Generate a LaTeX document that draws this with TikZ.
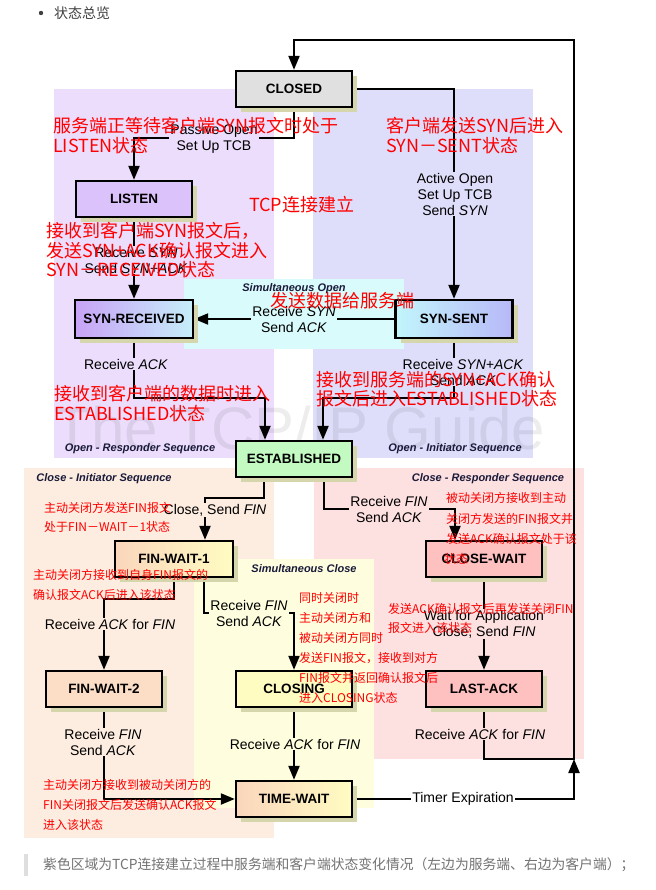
\documentclass[tikz,border=0pt]{standalone}
\usepackage{fontspec}
\setmainfont{Liberation Sans}
\newfontfamily\cjk{Noto Sans CJK SC}
\usetikzlibrary{arrows.meta,shadows}
\pgfdeclarelayer{back}
\pgfdeclarelayer{lines}
\pgfsetlayers{back,lines,main}
\definecolor{rgPurple}{HTML}{EBDDFB}
\definecolor{rgBlue}{HTML}{DEDEFB}
\definecolor{rgCyan}{HTML}{DAFBFB}
\definecolor{rgOrange}{HTML}{FDEDE0}
\definecolor{rgPink}{HTML}{FDE0E0}
\definecolor{rgYellow}{HTML}{FEFEDF}
\definecolor{shadowc}{HTML}{D6D6AC}
\definecolor{rglabel}{HTML}{1A1A3A}
\definecolor{bxClosed}{HTML}{E0E0E0}
\definecolor{bxListen}{HTML}{DCC2FA}
\definecolor{bxPurple}{HTML}{C8A2F6}
\definecolor{bxLCyan}{HTML}{C6EEFA}
\definecolor{bxCyan}{HTML}{C2F6FC}
\definecolor{bxPeri}{HTML}{B8B8F8}
\definecolor{bxGreen}{HTML}{C2FAC2}
\definecolor{bxPeach}{HTML}{FAD6BC}
\definecolor{bxPeach2}{HTML}{FCDEC6}
\definecolor{bxYellow}{HTML}{FFFCC2}
\definecolor{bxPink}{HTML}{FFC0C0}
\definecolor{annred}{HTML}{FF0000}
\begin{document}
\begin{tikzpicture}[x=1pt,y=-1pt,
  stbox/.style={draw=black, line width=2.4pt, minimum width=116pt, minimum height=36pt,
    inner sep=0pt, font=\fontsize{13.5}{15}\selectfont\bfseries,
    drop shadow={shadow xshift=5pt, shadow yshift=-5pt, fill=shadowc, opacity=1}},
  conn/.style={line width=2.2pt, -{Triangle[width=11pt,length=14pt]}},
  lbl/.style={font=\fontsize{14}{16}\selectfont, align=center, inner sep=1pt},
  rlabel/.style={font=\fontsize{11}{13}\selectfont\bfseries\itshape, text=rglabel, inner sep=0pt},
  bigred/.style={font=\cjk\fontsize{18}{20}\selectfont, text=annred, anchor=west, inner sep=0pt},
  smallred/.style={font=\cjk\fontsize{12}{14}\selectfont, text=annred, anchor=west, inner sep=0pt}]
\useasboundingbox (0,0) rectangle (655,890);

\begin{pgfonlayer}{back}
\fill[white] (0,0) rectangle (655,890);
\fill[rgPurple] (54,89) rectangle (274,458);
\fill[rgBlue] (313,89) rectangle (533,458);
\fill[rgCyan] (184,279) rectangle (404,349);
\fill[rgOrange] (24,468) rectangle (274,838);
\fill[rgPink] (314,468) rectangle (584,759);
\fill[rgYellow] (194,559) rectangle (374,808);
\node[font=\fontsize{60}{60}\selectfont, text=black, opacity=0.07, inner sep=0pt] (wm) at (300,428) {The TCP/IP Guide};
\node[rlabel] (l1) at (140,449) {Open - Responder Sequence};
\node[rlabel] (l2) at (455,449) {Open - Initiator Sequence};
\node[rlabel] (l3) at (294,289) {Simultaneous Open};
\node[rlabel] (l4) at (104,479) {Close - Initiator Sequence};
\node[rlabel] (l5) at (488,479) {Close - Responder Sequence};
\node[rlabel] (l6) at (304,569) {Simultaneous Close};
\end{pgfonlayer}

% heading and footer
\fill[black!75] (41,13) circle (2.2pt);
\node[font=\cjk\fontsize{14}{16}\selectfont, text=black!75, anchor=west, inner sep=0pt] (head) at (54,13) {状态总览};
\fill[black!13] (24,854) rectangle (28,876);
\node[font=\cjk\fontsize{13.8}{16}\selectfont, text=black!55, anchor=west, inner sep=0pt] (foot) at (43,865) {紫色区域为TCP连接建立过程中服务端和客户端状态变化情况（左边为服务端、右边为客户端）；};

% states
\node[stbox, fill=bxClosed] (closed) at (294,89) {CLOSED};
\node[stbox, fill=bxListen] (listen) at (134,199) {LISTEN};
\node[stbox, minimum width=118pt, minimum height=38pt, left color=bxPurple, right color=bxLCyan] (synrcvd) at (134,319) {SYN-RECEIVED};
\node[stbox, minimum width=117pt, minimum height=38pt, left color=bxCyan, right color=bxPeri] (synsent) at (454,319) {SYN-SENT};
\node[stbox, fill=bxGreen] (est) at (294,459) {ESTABLISHED};
\node[stbox, minimum width=118pt, left color=bxPeach, right color=bxYellow] (fw1) at (174,559) {FIN-WAIT-1};
\node[stbox, fill=bxPink] (cw) at (484,559) {CLOSE-WAIT};
\node[stbox, fill=bxPeach2] (fw2) at (104,689) {FIN-WAIT-2};
\node[stbox, fill=bxYellow] (closing) at (294,689) {CLOSING};
\node[stbox, fill=bxPink] (lastack) at (484,689) {LAST-ACK};
\node[stbox, left color=bxPeach, right color=bxYellow] (tw) at (294,799) {TIME-WAIT};

% bend points
\coordinate (b1) at (134,138);
\coordinate (b2) at (134,398);
\coordinate (b3) at (454,398);
\coordinate (b4) at (264,498);
\coordinate (b5) at (324,509);
\coordinate (b6) at (174,599);
\coordinate (b7) at (204,613);
\coordinate (b10) at (574,759);
\coordinate (b11) at (574,40);
\coordinate (estinL) at ([xshift=-29pt]est.north);
\coordinate (estinR) at ([xshift=29pt]est.north);
\coordinate (estoutL) at ([xshift=-30pt]est.south);
\coordinate (estoutR) at ([xshift=30pt]est.south);
\coordinate (fw1in) at ([xshift=31pt]fw1.north);
\coordinate (fw1out) at ([xshift=30pt]fw1.south);
\coordinate (cwin) at ([xshift=-29pt]cw.north);

\begin{pgfonlayer}{lines}
\draw[conn] (closed.south) |- (b1) -- (listen.north);
\draw[conn] (closed.east) -| (synsent.north);
\draw[conn] (listen.south) -- (synrcvd.north);
\draw[conn] (synsent.west) -- (synrcvd.east);
\draw[conn] (synrcvd.south) -- (b2) -| (estinL);
\draw[conn] (synsent.south) -- (b3) -| (estinR);
\draw[conn] (estoutL) -- (b4) -| (fw1in);
\draw[conn] (estoutR) -- (b5) -| (cwin);
\draw[conn] (fw1.south) -- (b6) -| (fw2.north);
\draw[conn] (fw1out) -- (b7) -| (closing.north);
\draw[conn] (fw2.south) |- (tw.west);
\draw[conn] (closing.south) -- (tw.north);
\draw[conn] (cw.south) -- (lastack.north);
\draw[conn] (lastack.south) |- (b10) -- (b11) -| (closed.north);
\draw[conn] (tw.east) -| (b10);

\node[lbl, fill=rgPurple] (t1) at (214,139) {Passive Open\\Set Up TCB};
\node[lbl, fill=rgBlue] (t2) at (455,194) {Active Open\\Set Up TCB\\Send \textit{SYN}};
\node[lbl, fill=rgPurple] (t3) at (136,260) {Receive \textit{SYN}\\Send \textit{SYN+ACK}};
\node[lbl, fill=rgCyan] (t4) at (294,319) {Receive \textit{SYN}\\Send \textit{ACK}};
\node[lbl, fill=rgPurple] (t5) at (126,364) {Receive \textit{ACK}};
\node[lbl, fill=rgBlue] (t6) at (463,372) {Receive \textit{SYN+ACK}\\Send \textit{ACK}};
\node[lbl, fill=rgOrange] (t7) at (215,510) {Close, Send \textit{FIN}};
\node[lbl, fill=rgPink] (t8) at (389,509) {Receive \textit{FIN}\\Send \textit{ACK}};
\node[lbl, fill=rgOrange] (t9) at (110,624) {Receive \textit{ACK} for \textit{FIN}};
\node[lbl, fill=rgYellow] (t10) at (249,613) {Receive \textit{FIN}\\Send \textit{ACK}};
\node[lbl, fill=rgOrange] (t11) at (103,742) {Receive \textit{FIN}\\Send \textit{ACK}};
\node[lbl, fill=rgYellow] (t12) at (295,744) {Receive \textit{ACK} for \textit{FIN}};
\node[lbl, fill=rgPink] (t13) at (484,624) {Wait for Application\\Close, Send \textit{FIN}};
\node[lbl, fill=rgPink] (t14) at (480,734) {Receive \textit{ACK} for \textit{FIN}};
\node[lbl, fill=white] (t15) at (463,799) {Timer Expiration};
\end{pgfonlayer}

% red annotations
\node[bigred] (r1) at (53,126) {服务端正等待客户端SYN报文时处于};
\node[bigred] (r2) at (53,146) {LISTEN状态};
\node[bigred] (r3) at (386,126) {客户端发送SYN后进入};
\node[bigred] (r4) at (386,146) {SYN－SENT状态};
\node[bigred] (r5) at (249,205) {TCP连接建立};
\node[bigred] (r6) at (46,231) {接收到客户端SYN报文后，};
\node[bigred] (r7) at (46,251) {发送SYN+ACK确认报文进入};
\node[bigred] (r8) at (46,270) {SYN－RECEIVED状态};
\node[bigred] (r9) at (270,301) {发送数据给服务端};
\node[bigred] (r10) at (54,394) {接收到客户端的数据时进入};
\node[bigred] (r11) at (54,414) {ESTABLISHED状态};
\node[bigred] (r12) at (316,380) {接收到服务端的SYN+ACK确认};
\node[bigred] (r13) at (316,399) {报文后进入ESTABLISHED状态};

\node[smallred] (s1) at (44,508) {主动关闭方发送FIN报文};
\node[smallred] (s2) at (44,527) {处于FIN－WAIT－1状态};
\node[smallred] (s3) at (33,575) {主动关闭方接收到自身FIN报文的};
\node[smallred] (s4) at (33,595) {确认报文ACK后进入该状态};
\node[smallred] (s5) at (446,498) {被动关闭方接收到主动};
\node[smallred] (s6) at (446,519) {关闭方发送的FIN报文并};
\node[smallred] (s7) at (446,539) {发送ACK确认报文处于该};
\node[smallred] (s8) at (444,559) {状态};
\node[smallred] (s9) at (388,609) {发送ACK确认报文后再发送关闭FIN};
\node[smallred] (s10) at (388,628) {报文进入该状态};
\node[smallred] (s11) at (299,598) {同时关闭时};
\node[smallred] (s12) at (299,618) {主动关闭方和};
\node[smallred] (s13) at (299,638) {被动关闭方同时};
\node[smallred] (s14) at (299,658) {发送FIN报文，接收到对方};
\node[smallred] (s15) at (299,678) {FIN报文并返回确认报文后};
\node[smallred] (s16) at (299,698) {进入CLOSING状态};
\node[smallred] (s17) at (43,785) {主动关闭方接收到被动关闭方的};
\node[smallred] (s18) at (43,805) {FIN关闭报文后发送确认ACK报文};
\node[smallred] (s19) at (43,825) {进入该状态};
\end{tikzpicture}
\end{document}
